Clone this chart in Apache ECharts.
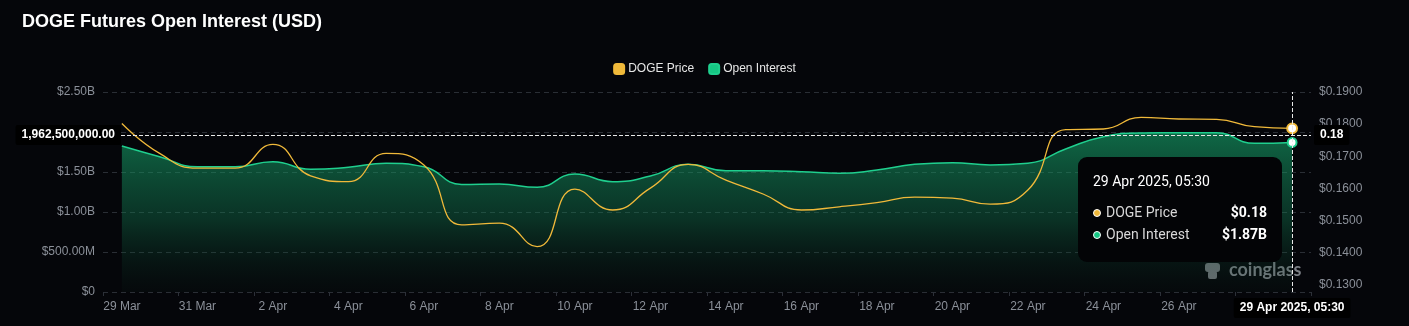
<!DOCTYPE html>
<html>
<head>
<meta charset="utf-8">
<title>DOGE Futures Open Interest (USD)</title>
<script src="https://cdn.jsdelivr.net/npm/echarts@6/dist/echarts.min.js"></script>
<style>
  html, body { margin: 0; padding: 0; background: #05060a; }
  #main { width: 1409px; height: 326px; }
</style>
</head>
<body>
<div id="main"></div>
<script>
// daily points, 29 Mar -> 29 Apr 2025 (05:30 local)
var dates = [
  '29 Mar 2025, 05:30', '30 Mar 2025, 05:30', '31 Mar 2025, 05:30', '1 Apr 2025, 05:30',
  '2 Apr 2025, 05:30', '3 Apr 2025, 05:30', '4 Apr 2025, 05:30', '5 Apr 2025, 05:30',
  '6 Apr 2025, 05:30', '7 Apr 2025, 05:30', '8 Apr 2025, 05:30', '9 Apr 2025, 05:30',
  '10 Apr 2025, 05:30', '11 Apr 2025, 05:30', '12 Apr 2025, 05:30', '13 Apr 2025, 05:30',
  '14 Apr 2025, 05:30', '15 Apr 2025, 05:30', '16 Apr 2025, 05:30', '17 Apr 2025, 05:30',
  '18 Apr 2025, 05:30', '19 Apr 2025, 05:30', '20 Apr 2025, 05:30', '21 Apr 2025, 05:30',
  '22 Apr 2025, 05:30', '23 Apr 2025, 05:30', '24 Apr 2025, 05:30', '25 Apr 2025, 05:30',
  '26 Apr 2025, 05:30', '27 Apr 2025, 05:30', '28 Apr 2025, 05:30', '29 Apr 2025, 05:30'
];

// DOGE price (USD)
var dogePrice = [
  0.1802, 0.1709, 0.1663, 0.1663, 0.1737, 0.1639, 0.1621, 0.1709,
  0.1673, 0.1487, 0.1492, 0.1419, 0.1598, 0.1533, 0.1601, 0.1675,
  0.1626, 0.1582, 0.1533, 0.1543, 0.1556, 0.1573, 0.1570, 0.1551,
  0.1595, 0.1783, 0.1785, 0.1821, 0.1816, 0.1815, 0.1792, 0.1787
];

// open interest (USD)
var openInterest = [
  1.825e9, 1.691e9, 1.566e9, 1.566e9, 1.629e9, 1.534e9, 1.559e9, 1.609e9,
  1.566e9, 1.345e9, 1.350e9, 1.308e9, 1.475e9, 1.379e9, 1.450e9, 1.596e9,
  1.516e9, 1.516e9, 1.504e9, 1.483e9, 1.525e9, 1.596e9, 1.616e9, 1.588e9,
  1.609e9, 1.788e9, 1.941e9, 1.988e9, 1.990e9, 1.990e9, 1.858e9, 1.870e9
];

var seriesNames = ['DOGE Price', 'Open Interest'];
var priceColor = '#f0b93a';
var oiColor = '#1fcf8e';

// where the cursor sits in the picture
var hoverIndex = dates.length - 1;
var hoverValue = 1962500000;

var chartDom = document.getElementById('main');
var myChart = echarts.init(chartDom, null, { renderer: 'canvas' });
var option;

function fmtUsd(v) {
  if (v === 0) return '$0';
  if (v >= 1e9) return '$' + (v / 1e9).toFixed(2) + 'B';
  return '$' + (v / 1e6).toFixed(2) + 'M';
}

var labelFont = { color: '#8b9099', fontSize: 12, fontFamily: 'Liberation Sans, Arial, sans-serif' };
var pointerLabel = {
  show: true,
  backgroundColor: '#000000',
  color: '#ffffff',
  fontSize: 12,
  fontWeight: 'bold',
  fontFamily: 'Liberation Sans, Arial, sans-serif',
  padding: [4, 6, 4, 6],
  borderRadius: 2
};

option = {
  backgroundColor: '#05060a',
  animation: false,
  title: {
    text: 'DOGE Futures Open Interest (USD)',
    left: 17,
    top: 8,
    textStyle: { color: '#ffffff', fontSize: 18, fontWeight: 'bold', fontFamily: 'Liberation Sans, Arial, sans-serif' }
  },
  legend: {
    top: 58,
    left: 'center',
    itemWidth: 10,
    itemHeight: 10,
    itemGap: 14,
    icon: 'roundRect',
    textStyle: { color: '#e6e6e6', fontSize: 12, fontFamily: 'Liberation Sans, Arial, sans-serif', padding: [0, 0, 0, -1] },
    data: [
      { name: seriesNames[0], itemStyle: { color: priceColor } },
      { name: seriesNames[1], itemStyle: { color: '#16c784' } }
    ]
  },
  grid: { left: 103, right: 98, top: 92, bottom: 34 },
  tooltip: {
    trigger: 'axis',
    alwaysShowContent: true,
    transitionDuration: 0,
    backgroundColor: '#030406',
    borderWidth: 0,
    padding: [14, 15, 17, 15],
    extraCssText: 'border-radius:9px;box-shadow:none;',
    axisPointer: {
      type: 'cross',
      animation: false,
      lineStyle: { color: '#e8e8e8', type: 'dashed', width: 1 },
      crossStyle: { color: '#e8e8e8', type: 'dashed', width: 1 }
    },
    position: function (pt, params, dom, rect, size) {
      return [pt[0] - size.contentSize[0] - 10, pt[1] + 22];
    },
    formatter: function (params) {
      var price = null, oi = null, name = '';
      params.forEach(function (p) {
        name = p.name;
        if (p.seriesName === seriesNames[0]) price = p.value;
        if (p.seriesName === seriesNames[1]) oi = p.value;
      });
      function row(color, label, val) {
        return '<div style="display:flex;justify-content:space-between;align-items:center;line-height:22px;">' +
          '<span style="color:#d8d8d8;"><span style="display:inline-block;width:6px;height:6px;border-radius:50%;' +
          'background:' + color + ';border:1.5px solid #ffffff;margin-right:5px;vertical-align:0px;"></span>' + label + '</span>' +
          '<span style="color:#ffffff;font-weight:bold;margin-left:22px;">' + val + '</span></div>';
      }
      return '<div style="font-family:Roboto, Liberation Sans, Arial, sans-serif;font-size:14px;min-width:174px;">' +
        '<div style="color:#ffffff;line-height:20px;margin-bottom:10px;">' + name + '</div>' +
        row(priceColor, seriesNames[0], '$' + price.toFixed(2)) +
        row('#16c784', seriesNames[1], '$' + (oi / 1e9).toFixed(2) + 'B') +
        '</div>';
    }
  },
  xAxis: {
    type: 'category',
    data: dates,
    boundaryGap: true,
    axisLine: { show: false },
    axisTick: { show: true, interval: 1, length: 4, lineStyle: { color: '#2c3038' } },
    axisLabel: Object.assign({
      interval: 1,
      margin: 9,
      formatter: function (v) { return v.split(' ').slice(0, 2).join(' '); }
    }, labelFont),
    axisPointer: { label: Object.assign({}, pointerLabel, { margin: 6 }) }
  },
  yAxis: [
    {
      type: 'value',
      min: 0,
      max: 2500000000,
      interval: 500000000,
      axisLine: { show: false },
      axisTick: { show: false },
      axisLabel: Object.assign({ margin: 8, formatter: fmtUsd }, labelFont),
      splitLine: { show: true, lineStyle: { color: '#2a2e35', type: [5, 4] } },
      axisPointer: {
        label: Object.assign({}, pointerLabel, {
          margin: -18,
          formatter: function (p) {
            return Number(p.value).toLocaleString('en-US', { minimumFractionDigits: 2, maximumFractionDigits: 2 });
          }
        })
      }
    },
    {
      type: 'value',
      min: 0.1278,
      max: 0.19,
      axisLine: { show: false },
      axisTick: { show: false },
      splitLine: { show: false },
      axisLabel: Object.assign({
        margin: 8,
        showMinLabel: false,
        formatter: function (v) {
          if (Math.abs(v * 100 - Math.round(v * 100)) > 1e-6) return '';
          return '$' + v.toFixed(4);
        }
      }, labelFont),
      axisPointer: {
        label: Object.assign({}, pointerLabel, {
          formatter: function (p) { return Number(p.value).toFixed(2); }
        })
      }
    }
  ],
  graphic: [
    {
      type: 'group',
      left: 1205,
      top: 261,
      z: 1,
      children: [
        { type: 'rect', shape: { x: 1, y: 0, width: 15, height: 9, r: 3 }, style: { fill: '#6f7378' } },
        { type: 'rect', shape: { x: 4, y: 8, width: 9, height: 8, r: 2 }, style: { fill: '#6f7378' } },
        {
          type: 'text',
          left: 25,
          top: -2,
          style: { text: 'coinglass', fill: '#7b7f85', fontSize: 18, fontWeight: 'bold', fontFamily: 'Lato, Liberation Sans, sans-serif' }
        }
      ]
    }
  ],
  series: [
    {
      name: seriesNames[1],
      type: 'line',
      yAxisIndex: 0,
      data: openInterest,
      smooth: true,
      showSymbol: false,
      symbol: 'circle',
      symbolSize: 8,
      lineStyle: { color: oiColor, width: 1.5 },
      itemStyle: { color: '#ffffff', borderColor: oiColor, borderWidth: 2 },
      areaStyle: {
        color: new echarts.graphic.LinearGradient(0, 0, 0, 1, [
          { offset: 0, color: 'rgba(22, 170, 110, 0.85)' },
          { offset: 0.55, color: 'rgba(18, 120, 80, 0.55)' },
          { offset: 1, color: 'rgba(10, 40, 28, 0.15)' }
        ])
      },
      emphasis: { disabled: true },
      z: 2
    },
    {
      name: seriesNames[0],
      type: 'line',
      yAxisIndex: 1,
      data: dogePrice,
      smooth: true,
      showSymbol: false,
      symbol: 'circle',
      symbolSize: 9,
      lineStyle: { color: priceColor, width: 1.3 },
      itemStyle: { color: '#ffffff', borderColor: priceColor, borderWidth: 2 },
      emphasis: { disabled: true },
      z: 3
    }
  ]
};

myChart.setOption(option);

var px = myChart.convertToPixel({ xAxisIndex: 0 }, hoverIndex);
var py = myChart.convertToPixel({ yAxisIndex: 0 }, hoverValue);
myChart.dispatchAction({ type: 'showTip', x: px, y: py });
</script>
</body>
</html>
